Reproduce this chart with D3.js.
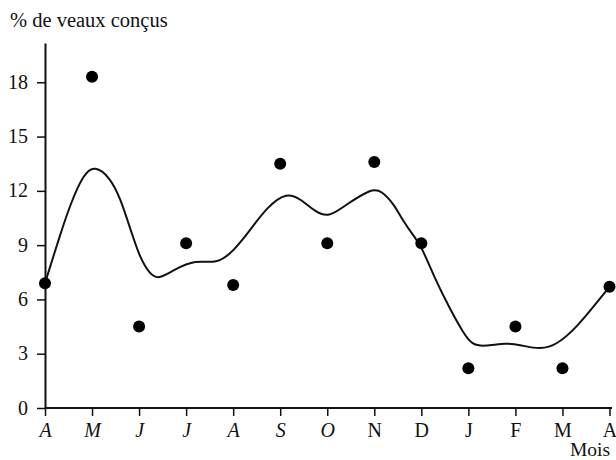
<!DOCTYPE html>
<html><head><meta charset="utf-8">
<script src="https://cdn.jsdelivr.net/npm/d3@7"></script>
<style>
html,body{margin:0;padding:0;background:#fff;}
svg text{font-family:"Liberation Serif","Times New Roman",serif;fill:#111;}
</style></head>
<body>
<svg id="c" width="616" height="460"></svg>
<script>
const months = ["A","M","J","J","A","S","O","N","D","J","F","M","A"];
const italicMonths = [true,true,true,true,true,true,true,false,false,false,false,false,false];
const observed = [6.9,18.3,4.5,9.1,6.8,13.5,9.1,13.6,9.1,2.2,4.5,2.2,6.7];
const smoothPos = [0,0.32,0.53,0.82,1.06,1.38,1.6,1.81,2.02,2.23,2.41,2.73,3.2,3.65,4.0,4.36,4.72,5.14,5.46,5.74,6.03,6.38,6.95,7.15,7.41,7.62,7.84,8.0,8.26,8.62,8.9,9.08,9.33,9.82,10.11,10.53,10.89,11.31,11.66,12.0];
const smoothVal = [6.9,9.56,11.2,12.95,13.4,12.75,11.6,9.93,8.27,7.4,7.1,7.62,8.2,7.95,8.64,9.83,11.1,11.95,11.5,10.85,10.52,11.2,12.15,12.0,11.3,10.3,9.5,8.95,7.3,5.41,4.12,3.5,3.4,3.6,3.48,3.22,3.5,4.49,5.6,6.7];
const yTicks = [0,3,6,9,12,15,18];
const yTitle = "% de veaux conçus";
const xTitle = "Mois";

const svg = d3.select("#c");
const x = d3.scaleLinear().domain([0,12]).range([45,609.5]);
const y = d3.scaleLinear().domain([0,20.17]).range([408,43]);

// y axis
const ya = svg.append("g").attr("transform","translate(45,0)")
  .call(d3.axisLeft(y).tickValues(yTicks).tickSize(8).tickPadding(9).tickSizeOuter(0));
ya.attr("font-family",null);
ya.select(".domain").attr("stroke","#111").attr("stroke-width",2);
ya.selectAll(".tick line").attr("stroke","#111").attr("stroke-width",1.5);
ya.selectAll(".tick text").attr("font-size",20).attr("fill","#111").attr("dy","0.3em");

// x axis
const xa = svg.append("g").attr("transform","translate(0,408)")
  .call(d3.axisBottom(x).tickValues(d3.range(months.length)).tickFormat(i=>months[i]).tickSize(8).tickSizeOuter(0));
xa.attr("font-family",null);
xa.select(".domain").attr("stroke","#111").attr("stroke-width",2).attr("d","M45,0H612");
xa.selectAll(".tick line").attr("stroke","#111").attr("stroke-width",1.5);
xa.selectAll(".tick text").attr("font-size",20).attr("fill","#111")
  .attr("y",29).attr("dy",0)
  .attr("font-style",(d)=>italicMonths[d]?"italic":"normal");

// titles
svg.append("text").attr("x",10).attr("y",27).attr("font-size",20.5).text(yTitle);
svg.append("text").attr("x",610).attr("y",456).attr("text-anchor","end").attr("font-size",19.5).text(xTitle);

// smooth curve
const pts = smoothPos.map((p,i)=>[p,smoothVal[i]]);
svg.append("path").datum(pts)
  .attr("fill","none").attr("stroke","#111").attr("stroke-width",2)
  .attr("d", d3.line().x(d=>x(d[0])).y(d=>y(d[1])).curve(d3.curveBasis));

// dots
svg.append("g").selectAll("circle").data(observed).join("circle")
  .attr("cx",(d,i)=>x(i)).attr("cy",d=>y(d)).attr("r",6).attr("fill","#000");
</script>
</body></html>
